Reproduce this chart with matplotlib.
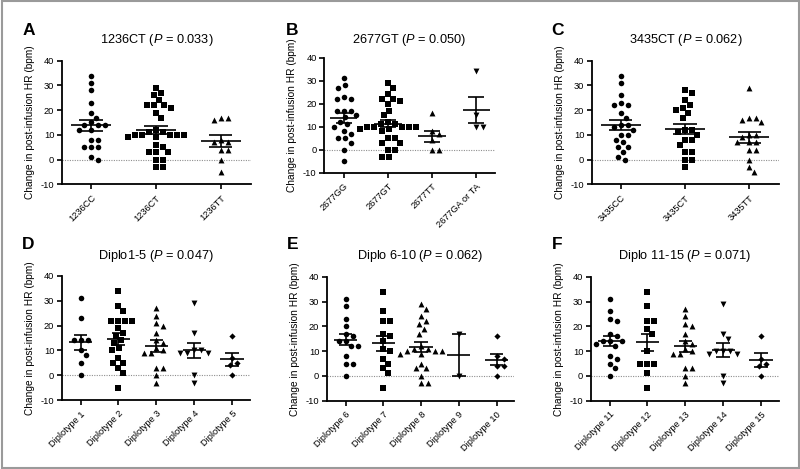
import numpy as np
import matplotlib
matplotlib.use("Agg")
import matplotlib.pyplot as plt
from matplotlib.patches import Rectangle

plt.rcParams['font.family'] = ['Liberation Sans', 'DejaVu Sans']
plt.rcParams['mathtext.fontset'] = 'custom'
plt.rcParams['mathtext.rm'] = 'Liberation Sans'
plt.rcParams['mathtext.it'] = 'Liberation Sans:italic'

# ---------------- data (change in post-infusion HR, bpm) ----------------
cats_1236 = ["1236CC", "1236CT", "1236TT"]
cc_1236 = [34, 31, 28, 23, 19, 17, 15, 14, 14, 14, 12, 12, 8, 8, 5, 5, 5, 1, 0]
ct_1236 = [29, 27, 26, 24, 22, 22, 22, 21, 19, 17, 12, 11, 11, 10, 10, 10, 10, 10,
           9, 9, 6, 5, 3, 3, 3, 0, 0, -3, -3]
tt_1236 = [17, 16, 17, 8, 7, 7, 4, 4, 0, -5]

cats_2677 = ["2677GG", "2677GT", "2677TT", "2677GA or TA"]
gg_2677 = [31, 28, 27, 23, 22, 22, 17, 17, 17, 15, 14, 12, 11, 10, 8, 7, 5, 5, 3, 0, -5]
gt_2677 = [29, 27, 24, 22, 22, 21, 20, 17, 15, 12, 11, 11, 10, 10, 10, 10, 10, 9, 9,
           8, 5, 5, 3, 3, 0, 0, -3, -3]
tt_2677 = [16, 8, 7, 4, 0, 0]
ga_2677 = [34, 15, 10, 10]

cats_3435 = ["3435CC", "3435CT", "3435TT"]
cc_3435 = [34, 31, 26, 23, 22, 22, 19, 17, 14, 14, 13, 12, 10, 10, 8, 7, 5, 5, 3, 1, 0]
ct_3435 = [28, 27, 24, 22, 21, 20, 19, 17, 12, 12, 11, 10, 8, 8, 6, 3, 3, 0, 0, -3]
tt_3435 = [29, 17, 17, 16, 15, 10, 9, 10, 7, 7, 7, 4, 4, 0, -3, -5]

cats_d1_5 = ["Diplotype 1", "Diplotype 2", "Diplotype 3", "Diplotype 4", "Diplotype 5"]
d1 = [31, 23, 14, 14, 14, 10, 8, 5, 0]
d2 = [34, 28, 26, 22, 22, 22, 22, 19, 17, 16, 14, 13, 11, 10, 7, 5, 5, 3, 1, -5]
d3 = [27, 24, 21, 20, 17, 14, 13, 11, 10, 9, 9, 3, 3, 0, -3]
d4 = [29, 17, 10, 10, 9, 9, 9, 0, -3]
d5 = [16, 7, 5, 4, 0]

cats_d6_10 = ["Diplotype 6", "Diplotype 7", "Diplotype 8", "Diplotype 9", "Diplotype 10"]
d6 = [31, 28, 23, 20, 17, 16, 14, 14, 12, 12, 8, 5, 5, 0]
d7 = [34, 26, 22, 22, 17, 16, 14, 11, 10, 7, 5, 3, 1, -5]
d8 = [29, 27, 24, 22, 21, 19, 17, 12, 11, 11, 10, 10, 10, 9, 9, 5, 3, 3, 0, -3, -3]
d9 = [17, 0]
d10 = [16, 8, 7, 4, 4, 0]

cats_d11_15 = ["Diplotype 11", "Diplotype 12", "Diplotype 13", "Diplotype 14", "Diplotype 15"]
d11 = [31, 26, 23, 22, 17, 16, 14, 14, 14, 13, 12, 8, 7, 5, 3, 0]
d12 = [34, 28, 22, 22, 19, 17, 10, 5, 5, 5, 1, -5]
d13 = [27, 24, 21, 20, 17, 14, 13, 11, 10, 9, 9, 3, 3, 0, -3]
d14 = [29, 17, 15, 10, 10, 10, 9, 9, 0, -3]
d15 = [16, 7, 5, 4, 0]

titles = ["1236CT ($P$ = 0.033)", "2677GT ($P$ = 0.050)", "3435CT ($P$ = 0.062)",
          "Diplo1-5 ($P$ = 0.047)", "Diplo 6-10 ($P$ = 0.062)", "Diplo 11-15 ($P$ = 0.071)"]
letters = ["A", "B", "C", "D", "E", "F"]
y_ticks = [-10, 0, 10, 20, 30, 40]
y_label = "Change in post-infusion HR (bpm)"

# ---------------- layout ----------------
W, H = 800, 469
fig = plt.figure(figsize=(W / 100, H / 100), dpi=100)


def px_rect(x0, x1, ytop, ybot):
    return [x0 / W, 1 - ybot / H, (x1 - x0) / W, (ybot - ytop) / H]


panels = [
    dict(cats=cats_1236, groups=[cc_1236, ct_1236, tt_1236],
         rect=px_rect(62, 251, 60.7, 184.3), xlim=(-0.45, 2.47), lpos=(23, 30), ty=40.5),
    dict(cats=cats_2677, groups=[gg_2677, gt_2677, tt_2677, ga_2677],
         rect=px_rect(324.3, 495, 57.7, 172.7), xlim=(-0.44, 3.42), lpos=(286, 30), ty=40.5),
    dict(cats=cats_3435, groups=[cc_3435, ct_3435, tt_3435],
         rect=px_rect(592, 779.3, 60.7, 184.3), xlim=(-0.45, 2.47), lpos=(551, 30), ty=40.5),
    dict(cats=cats_d1_5, groups=[d1, d2, d3, d4, d5],
         rect=px_rect(62, 250, 275.7, 400.3), xlim=(-0.49, 4.47), lpos=(22, 244), ty=255.7),
    dict(cats=cats_d6_10, groups=[d6, d7, d8, d9, d10],
         rect=px_rect(327, 514.3, 276.7, 400.7), xlim=(-0.49, 4.47), lpos=(287, 244), ty=255.7),
    dict(cats=cats_d11_15, groups=[d11, d12, d13, d14, d15],
         rect=px_rect(591, 779, 276.7, 400.7), xlim=(-0.49, 4.47), lpos=(552, 244), ty=255.7),
]

markers = ['o', 's', '^', 'v', 'D']
msizes = {'o': 16, 's': 15, '^': 18, 'v': 18, 'D': 10}


def swarm(ax, x0, vals, dmin=7.0, step=0.5):
    """Greedy beeswarm in display pixels: each point goes to the nearest
    horizontal offset where it does not overlap already placed points."""
    vals = np.asarray(vals, float)
    disp = ax.transData.transform(np.column_stack([np.full(len(vals), x0), vals]))
    order = np.argsort(-vals, kind='stable')
    placed = []
    xd = disp[:, 0].copy()
    cands = [0.0]
    for k in range(1, 200):
        cands += [k * step, -k * step]
    for j in order:
        px, py = disp[j]
        for off in cands:
            cx = px + off
            ok = all((cx - qx) ** 2 + (py - qy) ** 2 >= dmin ** 2 for qx, qy in placed)
            if ok:
                break
        xd[j] = cx
        placed.append((cx, py))
    back = ax.transData.inverted().transform(np.column_stack([xd, disp[:, 1]]))
    return back[:, 0]


for p, title, letter in zip(panels, titles, letters):
    ax = fig.add_axes(p['rect'])
    ax.set_xlim(*p['xlim'])
    ax.set_ylim(-10, 40)
    ax.axhline(0, color='#8f8f8f', lw=0.8, ls=(0, (1, 1.2)), zorder=1)
    for i, vals in enumerate(p['groups']):
        v = np.asarray(vals, float)
        xs = swarm(ax, i, v)
        mk = markers[i]
        ax.scatter(xs, v, marker=mk, s=msizes[mk], color='black', linewidths=0, zorder=3)
        m = v.mean()
        sem = v.std(ddof=1) / np.sqrt(len(v))
        ax.hlines(m, i - 0.31, i + 0.31, color='black', lw=1.2, zorder=4)
        ax.vlines(i, m - sem, m + sem, color='black', lw=1.2, zorder=4)
        ax.hlines([m - sem, m + sem], i - 0.18, i + 0.18, color='black', lw=1.2, zorder=4)
    ax.set_xticks(range(len(p['cats'])))
    ax.set_xticklabels(p['cats'], rotation=45, ha='right', rotation_mode='anchor', fontsize=6.7)
    ax.set_yticks(y_ticks)
    ax.set_yticklabels([str(t) for t in y_ticks], fontsize=6.7)
    ax.tick_params(axis='both', direction='out', length=3.5, width=1.2, pad=2, colors='black')
    ax.tick_params(axis='x', pad=3)
    for s in ['top', 'right']:
        ax.spines[s].set_visible(False)
    for s in ['left', 'bottom']:
        ax.spines[s].set_linewidth(1.3)
    ax.set_ylabel(y_label, fontsize=7.3, labelpad=4)
    cx = (p['rect'][0] + p['rect'][2] / 2)
    fig.text(cx, 1 - p['ty'] / H, title, fontsize=9.2, ha='center', va='center')
    fig.text(p['lpos'][0] / W, 1 - p['lpos'][1] / H, letter, fontsize=12.5,
             fontweight='bold', ha='left', va='center')

fig.patches.append(Rectangle((1.5 / W, 1.5 / H), 1 - 3 / W, 1 - 3 / H, transform=fig.transFigure,
                             fill=False, edgecolor='#9a9a9a', linewidth=1.5))

fig.savefig("out.png", dpi=100)
